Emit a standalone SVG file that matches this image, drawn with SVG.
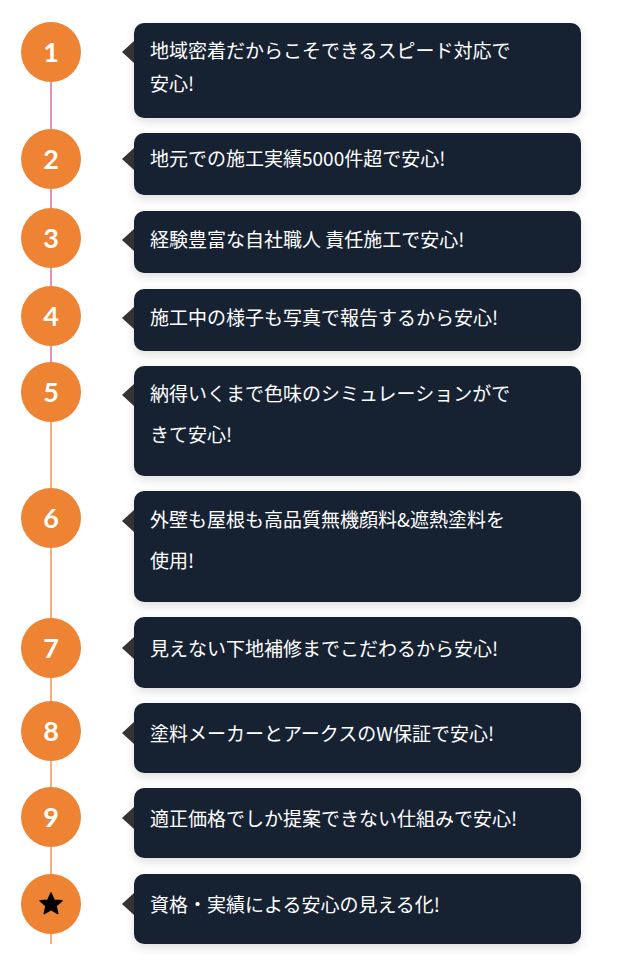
<svg xmlns="http://www.w3.org/2000/svg" width="617" height="964" viewBox="0 0 617 964">
<style>
.b{fill:#162331;filter:url(#sh)}
.p{fill:#333}
.c{fill:#ee8433}
.n{fill:#fff;font-family:"Lato","Liberation Sans",sans-serif;font-size:27px;font-weight:bold;text-anchor:middle}
.t{fill:#fff;font-family:"Noto Sans CJK JP","Noto Sans",sans-serif;font-size:19px}
</style>
<defs><filter id="sh" x="-10%" y="-20%" width="120%" height="150%"><feDropShadow dx="0" dy="4" stdDeviation="5" flood-color="#000" flood-opacity="0.12"/></filter></defs>
<g id="connectors">
<line x1="51" y1="52" x2="51" y2="392" stroke="#e06aa0" stroke-width="1.5"/>
<line x1="51" y1="392" x2="51" y2="944" stroke="#f5b07a" stroke-width="2"/>
</g>
<g id="n1"><circle class="c" cx="51" cy="52" r="30"/><text class="n" x="51" y="62">1</text><rect class="b" x="134" y="23" width="447" height="95" rx="10"/><path class="p" d="M122 52 134 41 134 63Z"/><text class="t" x="150" y="58">地域密着だからこそできるスピード対応で</text><text class="t" x="150" y="91">安心!</text></g>
<g id="n2"><circle class="c" cx="51" cy="159" r="30"/><text class="n" x="51" y="169">2</text><rect class="b" x="134" y="133" width="447" height="62" rx="10"/><path class="p" d="M122 159 134 148 134 170Z"/><text class="t" x="150" y="166">地元での施工実績5000件超で安心!</text></g>
<g id="n3"><circle class="c" cx="51" cy="238" r="30"/><text class="n" x="51" y="248">3</text><rect class="b" x="134" y="211" width="447" height="62" rx="10"/><path class="p" d="M122 240 134 229 134 251Z"/><text class="t" x="150" y="247">経験豊富な自社職人 責任施工で安心!</text></g>
<g id="n4"><circle class="c" cx="51" cy="316" r="30"/><text class="n" x="51" y="326">4</text><rect class="b" x="134" y="289" width="447" height="62" rx="10"/><path class="p" d="M122 318 134 307 134 329Z"/><text class="t" x="150" y="325">施工中の様子も写真で報告するから安心!</text></g>
<g id="n5"><circle class="c" cx="51" cy="392" r="30"/><text class="n" x="51" y="402">5</text><rect class="b" x="134" y="366" width="447" height="110" rx="10"/><path class="p" d="M122 395 134 384 134 406Z"/><text class="t" x="150" y="401">納得いくまで色味のシミュレーションがで</text><text class="t" x="150" y="442">きて安心!</text></g>
<g id="n6"><circle class="c" cx="51" cy="518" r="30"/><text class="n" x="51" y="528">6</text><rect class="b" x="134" y="491" width="447" height="111" rx="10"/><path class="p" d="M122 521 134 510 134 532Z"/><text class="t" x="150" y="527">外壁も屋根も高品質無機顔料&amp;遮熱塗料を</text><text class="t" x="150" y="568">使用!</text></g>
<g id="n7"><circle class="c" cx="51" cy="648" r="30"/><text class="n" x="51" y="658">7</text><rect class="b" x="134" y="617" width="447" height="71" rx="10"/><path class="p" d="M122 648 134 637 134 659Z"/><text class="t" x="150" y="656">見えない下地補修までこだわるから安心!</text></g>
<g id="n8"><circle class="c" cx="51" cy="731" r="30"/><text class="n" x="51" y="741">8</text><rect class="b" x="134" y="703" width="447" height="70" rx="10"/><path class="p" d="M122 733 134 722 134 744Z"/><text class="t" x="150" y="741">塗料メーカーとアークスのW保証で安心!</text></g>
<g id="n9"><circle class="c" cx="51" cy="817" r="30"/><text class="n" x="51" y="827">9</text><rect class="b" x="134" y="788" width="447" height="70" rx="10"/><path class="p" d="M122 818 134 807 134 829Z"/><text class="t" x="150" y="826">適正価格でしか提案できない仕組みで安心!</text></g>
<g id="n10"><circle class="c" cx="51" cy="904" r="30"/><path d="M51 893 54.2 900.2 62 900.8 56 906 57.8 913.6 51 909.6 44.2 913.6 46 906 40 900.8 47.8 900.2Z" fill="#000" stroke="#000" stroke-width="1.5" stroke-linejoin="round"/><rect class="b" x="134" y="874" width="447" height="70" rx="10"/><path class="p" d="M122 904 134 893 134 915Z"/><text class="t" x="150" y="912">資格・実績による安心の見える化!</text></g>
</svg>
